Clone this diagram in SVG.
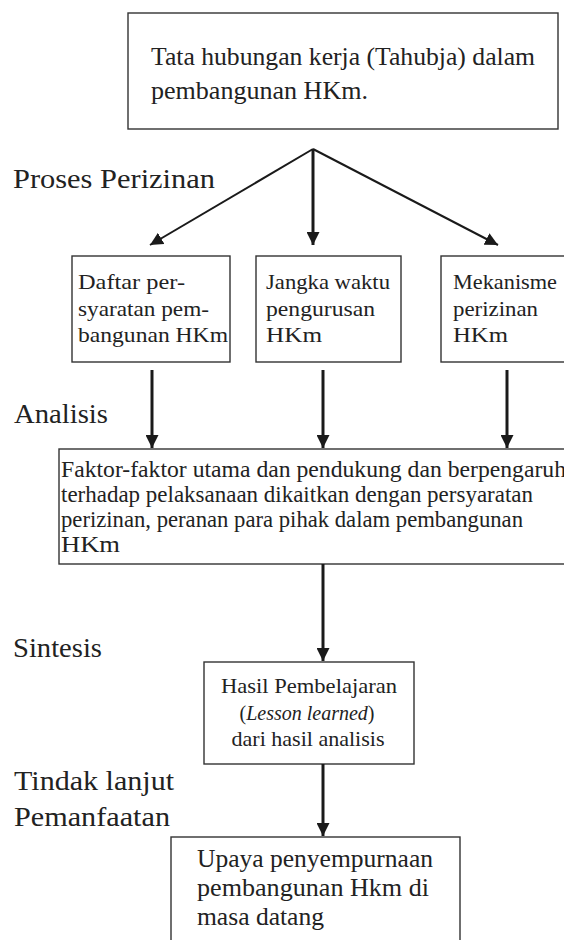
<svg xmlns="http://www.w3.org/2000/svg" width="564" height="940" viewBox="0 0 564 940">
<defs>
<style>
text{font-family:"Liberation Serif","Times New Roman",serif;fill:#222;}
.lbl{font-size:28px;}
.box{fill:#fff;stroke:#333;stroke-width:1.4;}
.t22{font-size:22px;}
.t23{font-size:22.5px;}
.t25{font-size:25px;}
.conn{stroke:#1a1a1a;fill:none;}
.v{stroke-width:3;}
.d{stroke-width:2;}
</style>
<marker id="ah" markerUnits="userSpaceOnUse" markerWidth="13" markerHeight="13" refX="13" refY="6.5" orient="auto" viewBox="0 0 13 13">
<path d="M0,0 L13,6.5 L0,13 z" fill="#1a1a1a"/>
</marker>
</defs>

<g id="labels">
<text class="lbl" x="13" y="188" textLength="202" lengthAdjust="spacingAndGlyphs">Proses Perizinan</text>
<text class="lbl" x="14" y="423" textLength="94" lengthAdjust="spacingAndGlyphs">Analisis</text>
<text class="lbl" x="13" y="657" textLength="89" lengthAdjust="spacingAndGlyphs">Sintesis</text>
<text class="lbl" x="14" y="790" textLength="160" lengthAdjust="spacingAndGlyphs">Tindak lanjut</text>
<text class="lbl" x="14" y="826" textLength="156" lengthAdjust="spacingAndGlyphs">Pemanfaatan</text>
</g>

<g id="top">
<rect class="box" x="128" y="13" width="430" height="116"/>
<text class="t25" x="151" y="65" textLength="384" lengthAdjust="spacingAndGlyphs">Tata hubungan kerja (Tahubja) dalam</text>
<text class="t25" x="151" y="99" textLength="217" lengthAdjust="spacingAndGlyphs">pembangunan HKm.</text>
</g>

<g id="daftar">
<rect class="box" x="72" y="256" width="158" height="106"/>
<text class="t22" x="78" y="289" textLength="107" lengthAdjust="spacingAndGlyphs">Daftar per-</text>
<text class="t22" x="78" y="316" textLength="131" lengthAdjust="spacingAndGlyphs">syaratan pem-</text>
<text class="t22" x="78" y="342" textLength="150" lengthAdjust="spacingAndGlyphs">bangunan HKm</text>
</g>

<g id="jangka">
<rect class="box" x="256" y="256" width="145" height="106"/>
<text class="t22" x="266" y="289" textLength="124" lengthAdjust="spacingAndGlyphs">Jangka waktu</text>
<text class="t22" x="266" y="316" textLength="109" lengthAdjust="spacingAndGlyphs">pengurusan</text>
<text class="t22" x="266" y="342" textLength="56" lengthAdjust="spacingAndGlyphs">HKm</text>
</g>

<g id="mekanisme">
<rect class="box" x="441" y="256" width="140" height="106"/>
<text class="t22" x="453" y="289" textLength="104" lengthAdjust="spacingAndGlyphs">Mekanisme</text>
<text class="t22" x="453" y="316" textLength="85" lengthAdjust="spacingAndGlyphs">perizinan</text>
<text class="t22" x="453" y="342" textLength="55" lengthAdjust="spacingAndGlyphs">HKm</text>
</g>

<g id="analisis">
<rect class="box" x="59" y="449" width="520" height="115"/>
<text class="t23" x="61" y="477" textLength="505" lengthAdjust="spacingAndGlyphs">Faktor-faktor utama dan pendukung dan berpengaruh</text>
<text class="t23" x="61" y="502" textLength="472" lengthAdjust="spacingAndGlyphs">terhadap pelaksanaan dikaitkan dengan persyaratan</text>
<text class="t23" x="61" y="527" textLength="462" lengthAdjust="spacingAndGlyphs">perizinan, peranan para pihak dalam pembangunan</text>
<text class="t23" x="61" y="552" textLength="59" lengthAdjust="spacingAndGlyphs">HKm</text>
</g>

<g id="hasil">
<rect class="box" x="204" y="662" width="210" height="102"/>
<text class="t22" x="309" y="693" text-anchor="middle" textLength="176" lengthAdjust="spacingAndGlyphs">Hasil Pembelajaran</text>
<text x="307" y="720" text-anchor="middle" font-size="20">(<tspan font-style="italic">Lesson learned</tspan>)</text>
<text class="t22" x="308" y="746" text-anchor="middle" textLength="153" lengthAdjust="spacingAndGlyphs">dari hasil analisis</text>
</g>

<g id="upaya">
<rect class="box" x="171" y="837" width="289" height="120"/>
<text class="t25" x="197" y="867" textLength="236" lengthAdjust="spacingAndGlyphs">Upaya penyempurnaan</text>
<text class="t25" x="197" y="896" textLength="232" lengthAdjust="spacingAndGlyphs">pembangunan Hkm di</text>
<text class="t25" x="197" y="925" textLength="127" lengthAdjust="spacingAndGlyphs">masa datang</text>
</g>

<g id="connectors">
<line class="conn d" x1="313" y1="149" x2="150" y2="245" marker-end="url(#ah)"/>
<line class="conn v" x1="313" y1="149" x2="313" y2="245" marker-end="url(#ah)"/>
<line class="conn d" x1="313" y1="149" x2="498" y2="245" marker-end="url(#ah)"/>
<line class="conn v" x1="152" y1="370" x2="152" y2="448" marker-end="url(#ah)"/>
<line class="conn v" x1="323" y1="370" x2="323" y2="448" marker-end="url(#ah)"/>
<line class="conn v" x1="507" y1="370" x2="507" y2="448" marker-end="url(#ah)"/>
<line class="conn v" x1="323" y1="564" x2="323" y2="661" marker-end="url(#ah)"/>
<line class="conn v" x1="323" y1="764" x2="323" y2="836" marker-end="url(#ah)"/>
</g>
</svg>
